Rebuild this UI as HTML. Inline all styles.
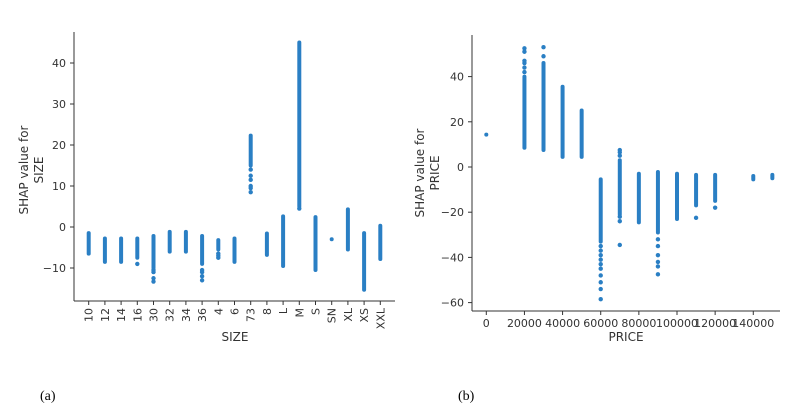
<!DOCTYPE html>
<html><head><meta charset="utf-8"><style>
body{margin:0;background:#fff;width:799px;height:405px;overflow:hidden}
svg{font-family:"DejaVu Sans","Liberation Sans",sans-serif}
</style></head><body>
<svg id="c" width="799" height="405">
<text x="40" y="400" font-family="Liberation Serif" font-size="14">(a)</text>
<text x="458" y="400" font-family="Liberation Serif" font-size="14">(b)</text>
</svg>
<script>
// Panel A data
const sizeCats=["10","12","14","16","30","32","34","36","4","6","73","8","L","M","S","SN","XL","XS","XXL"];
const sizeMin=[-6.5,-8.5,-8.5,-7.5,-10,-6,-6,-9,-5.5,-8.5,15,-6.8,-9.5,5,-10.5,-3,-5.5,-15.3,-7.8];
const sizeMax=[-1.5,-2.8,-2.8,-2.8,-2.2,-1.2,-1.2,-2.2,-3.2,-2.8,22.3,-1.6,2.6,45,2.4,-3,4.3,-1.5,0.3];
const sizeOut=[[],[],[],[-9],[-10.5,-11,-12.5,-13.3],[],[],[-10.5,-11,-12,-13],[-6.5,-7,-7.5],[],[14,12.5,11.5,10,9.5,8.5],[],[],[4.5],[],[],[],[],[]];
const sizeTicks=[-10,0,10,20,30,40];
// Panel B data
const priceX=[0,20000,30000,40000,50000,60000,70000,80000,90000,100000,110000,120000,140000,150000];
const priceMin=[14.3,8.5,7.5,4.5,4.5,-33,-21,-24.5,-29,-23,-17,-15,-5.5,-5];
const priceMax=[14.3,40,46,35.5,25,-5.5,3,-3,-2.2,-3,-3.5,-3.5,-4,-3.5];
const priceOut=[[],[42,44,46,47,51,52.5],[49,53],[],[],[-35,-37,-39,-41,-43,-45,-48,-51,-54,-58.5],[5,6.5,7.5,-22,-24,-34.5],[],[-32,-35,-39,-42,-44,-47.5],[],[-22.5],[-18],[],[]];
const priceYTicks=[-60,-40,-20,0,20,40];
const priceXTicks=[0,20000,40000,60000,80000,100000,120000,140000];

const NS="http://www.w3.org/2000/svg",svg=document.getElementById('c');
const C="#2a7fc4";
function mk(t,a,p){const e=document.createElementNS(NS,t);for(const k in a)e.setAttribute(k,a[k]);(p||svg).appendChild(e);return e;}

// Panel A
const ayA=v=>227-4.1*v, axA=i=>88.7+i*16.2;
let g=mk('g',{});


let e=mk('line',{x1:74,y1:32,x2:74,y2:301,stroke:'#333','stroke-width':1},g);

e=mk('line',{x1:74,y1:301,x2:395,y2:301,stroke:'#333','stroke-width':1},g);

sizeTicks.forEach(v=>{mk('line',{x1:70,x2:74,y1:ayA(v),y2:ayA(v),stroke:'#333'},g);
 const t=mk('text',{x:66,y:ayA(v)+4,'text-anchor':'end','font-size':11,fill:'#333'},g);t.textContent=v<0?'\u2212'+(-v):v;
 });
sizeCats.forEach((c,i)=>{const x=axA(i);mk('line',{x1:x,x2:x,y1:301,y2:305,stroke:'#333'},g);
 const t=mk('text',{x:0,y:0,transform:`translate(${x+4},308) rotate(-90)`,'text-anchor':'end','font-size':11,fill:'#333'},g);t.textContent=c;
 
 const l=mk('line',{x1:x,x2:x,y1:ayA(sizeMin[i]),y2:ayA(sizeMax[i]),stroke:C,'stroke-width':4,'stroke-linecap':'round'},g);
 
 sizeOut[i].forEach(v=>{const d=mk('circle',{cx:x,cy:ayA(v),r:2.2,fill:C},g);
  });});
e=mk('text',{x:235,y:341,'text-anchor':'middle','font-size':12,fill:'#333'},g);e.textContent='SIZE';

e=mk('text',{transform:'translate(0,0)','font-size':12,fill:'#333','text-anchor':'middle'},g);
e.innerHTML='<tspan x="0" y="0">SHAP value for</tspan><tspan x="0" y="15">SIZE</tspan>';
e.setAttribute('transform','translate(28,170) rotate(-90)');


// Panel B
const ayB=v=>167-2.26*v, axB=v=>486.3+v*38.14/20000;
g=mk('g',{});


e=mk('line',{x1:472,y1:35,x2:472,y2:311,stroke:'#333'},g);

e=mk('line',{x1:472,y1:311,x2:780,y2:311,stroke:'#333'},g);

priceYTicks.forEach(v=>{mk('line',{x1:468,x2:472,y1:ayB(v),y2:ayB(v),stroke:'#333'},g);
 const t=mk('text',{x:464,y:ayB(v)+4,'text-anchor':'end','font-size':11,fill:'#333'},g);t.textContent=v<0?'\u2212'+(-v):v;
 });
priceXTicks.forEach(v=>{const x=axB(v);mk('line',{x1:x,x2:x,y1:311,y2:315,stroke:'#333'},g);
 const t=mk('text',{x:x,y:327,'text-anchor':'middle','font-size':11,fill:'#333'},g);t.textContent=v;
 });
priceX.forEach((p,i)=>{const x=axB(p);
 const l=mk('line',{x1:x,x2:x,y1:ayB(priceMin[i]),y2:ayB(priceMax[i]),stroke:C,'stroke-width':4,'stroke-linecap':'round'},g);
 
 priceOut[i].forEach(v=>{const d=mk('circle',{cx:x,cy:ayB(v),r:2.2,fill:C},g);
  });});
e=mk('text',{x:626,y:341,'text-anchor':'middle','font-size':12,fill:'#333'},g);e.textContent='PRICE';

e=mk('text',{'font-size':12,fill:'#333','text-anchor':'middle'},g);
e.innerHTML='<tspan x="0" y="0">SHAP value for</tspan><tspan x="0" y="15">PRICE</tspan>';
e.setAttribute('transform','translate(424,173) rotate(-90)');

</script>
</body></html>
